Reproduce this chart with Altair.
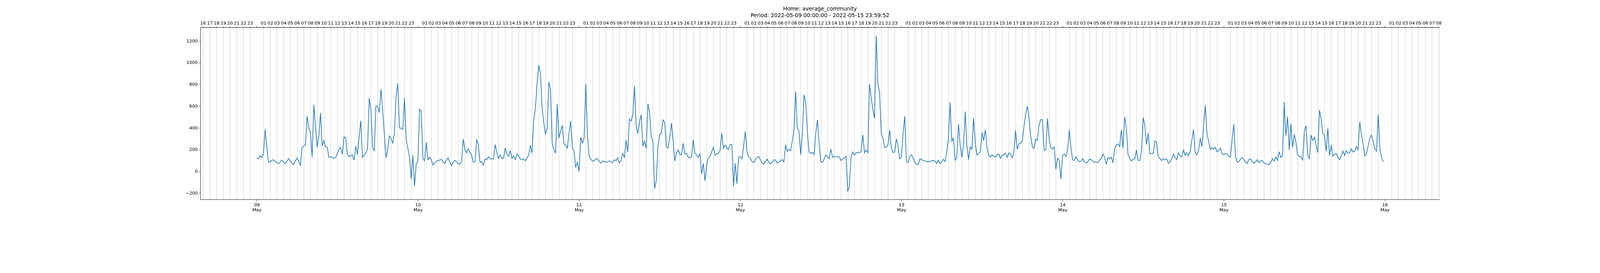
import pandas as pd
import altair as alt

# 15-minute readings, one list per day (00:00 ... 23:45)
may09 = [123, 114, 144, 125, 161, 385, 223, 84, 87, 102, 105, 92, 79, 70, 87, 103,
         86, 69, 91, 118, 92, 77, 62, 94, 123, 94, 53, 220, 232, 245, 507, 403,
         358, 130, 611, 418, 221, 320, 538, 233, 284, 225, 221, 130, 135, 128, 120, 125,
         161, 205, 218, 156, 317, 305, 158, 135, 143, 151, 103, 231, 153, 320, 466, 128,
         149, 171, 204, 675, 567, 218, 190, 601, 601, 541, 755, 562, 346, 125, 197, 326,
         302, 259, 348, 690, 811, 401, 396, 387, 675, 295, 215, 130, -70, 148, -137, 67]
may10 = [92, 571, 552, 115, 97, 267, 107, 130, 107, 56, 79, 94, 97, 104, 110, 87,
         71, 107, 124, 84, 51, 82, 101, 90, 70, 66, 85, 297, 201, 170, 208, 172,
         147, 85, 86, 294, 238, 82, 90, 56, 114, 105, 134, 115, 114, 112, 246, 173,
         117, 149, 119, 119, 215, 159, 137, 191, 120, 142, 107, 159, 144, 114, 105, 114,
         97, 124, 149, 241, 170, 478, 582, 809, 978, 903, 582, 446, 339, 397, 823, 749,
         258, 201, 167, 622, 306, 370, 423, 253, 240, 211, 349, 463, 213, 191, 36, 87]
may11 = [-2, 312, 260, 301, 806, 329, 137, 112, 94, 97, 117, 114, 92, 75, 94, 94,
         82, 89, 95, 87, 79, 107, 97, 125, 77, 99, 167, 124, 289, 178, 481, 463,
         521, 787, 420, 346, 456, 521, 231, 279, 211, 622, 542, 312, 274, -159, -85, 231,
         337, 351, 473, 453, 226, 213, 309, 444, 289, 94, 170, 198, 157, 152, 258, 161,
         165, 130, 122, 135, 291, 170, 150, 127, 165, -25, 74, -88, 61, 124, 137, 180,
         221, 147, 162, 164, 193, 352, 211, 243, 215, 201, 248, 246, -136, 74, -113, 132]
may12 = [134, 114, 228, 368, 183, 135, 120, 92, 79, 107, 127, 137, 107, 76, 66, 90,
         112, 82, 68, 82, 105, 104, 76, 85, 97, 107, 85, 243, 183, 203, 188, 279,
         380, 736, 397, 370, 152, 355, 705, 631, 360, 178, 162, 176, 155, 349, 474, 248,
         89, 82, 114, 149, 135, 115, 203, 127, 139, 132, 135, 132, 99, 117, 122, 137,
         -186, -136, 137, 178, 147, 172, 172, 172, 183, 336, 170, 196, 172, 804, 673, 572,
         486, 1249, 804, 726, 349, 304, 220, 220, 246, 380, 213, 172, 180, 299, 231, 115]
may13 = [132, 349, 508, 89, 82, 135, 152, 122, 82, 64, 64, 112, 109, 99, 95, 87,
         89, 89, 97, 99, 94, 71, 102, 71, 85, 110, 90, 178, 299, 635, 272, 309,
         102, 125, 437, 243, 127, 243, 550, 236, 107, 226, 203, 491, 260, 149, 164, 181,
         358, 282, 383, 218, 147, 132, 150, 139, 130, 154, 159, 119, 147, 152, 167, 129,
         170, 164, 124, 175, 378, 203, 254, 258, 279, 413, 521, 599, 491, 324, 226, 210,
         297, 284, 427, 476, 474, 196, 195, 488, 299, 218, 205, 225, 19, 120, 102, -73]
may14 = [145, 160, 135, 203, 380, 211, 104, 100, 135, 102, 90, 92, 117, 87, 76, 87,
         110, 107, 92, 85, 85, 79, 102, 114, 159, 132, 63, 125, 117, 130, 79, 208,
         240, 251, 228, 380, 211, 501, 395, 152, 122, 94, 112, 115, 196, 100, 99, 185,
         496, 425, 246, 352, 162, 164, 167, 279, 269, 137, 117, 99, 117, 104, 114, 73,
         85, 115, 159, 129, 107, 170, 145, 132, 196, 147, 170, 142, 181, 287, 385, 170,
         152, 190, 304, 226, 420, 607, 347, 274, 203, 218, 203, 220, 180, 193, 213, 162]
may15 = [154, 164, 160, 135, 132, 299, 432, 137, 85, 89, 112, 129, 107, 85, 73, 109,
         114, 89, 73, 87, 107, 79, 99, 97, 76, 68, 66, 61, 82, 115, 94, 132,
         99, 180, 127, 145, 638, 326, 503, 196, 437, 220, 341, 269, 150, 137, 135, 100,
         370, 420, 150, 112, 334, 284, 314, 240, 172, 564, 481, 349, 334, 183, 395, 145,
         243, 139, 157, 164, 129, 107, 145, 186, 145, 190, 165, 172, 208, 178, 183, 228,
         198, 456, 339, 253, 142, 162, 233, 306, 334, 274, 208, 185, 526, 208, 127, 89]

DAYS = [may09, may10, may11, may12, may13, may14, may15]
Y_TICKS = [-200, 0, 200, 400, 600, 800, 1000, 1200]
TITLE = ["Home: average_community",
         "Period: 2022-05-09 00:00:00 - 2022-05-15 23:59:52"]


def ms(ts):
    return int(pd.Timestamp(ts).value // 10**6)


values = [v for day in DAYS for v in day]
times = pd.date_range("2022-05-09 00:00", periods=len(values), freq="15min")
df = pd.DataFrame({"t": [ms(t) for t in times], "power": values})

x_domain = [ms("2022-05-08 15:37"), ms("2022-05-16 08:08")]
hour_ticks = [ms(h) for h in pd.date_range("2022-05-08 16:00", "2022-05-16 08:00", freq="h")
              if h.hour != 0]
day_ticks = [ms(d) for d in pd.date_range("2022-05-09", "2022-05-16", freq="D")]
edges = pd.DataFrame({"t": x_domain})

FONT = "DejaVu Sans"
x_scale = alt.Scale(type="utc", domain=x_domain, nice=False)
y_scale = alt.Scale(domain=[-259, 1326], nice=False, zero=False)
common = dict(title=None, domainColor="black", domainWidth=1.1, labelFont=FONT,
              labelFontSize=13.9, labelColor="black", tickColor="black", tickWidth=1,
              labelOverlap=False, labelFlush=False, labelBound=False)

line = alt.Chart(df).mark_line(color="#1f77b4", strokeWidth=2.1).encode(
    x=alt.X("t:T", scale=x_scale, axis=alt.Axis(
        orient="bottom", values=day_ticks, grid=False, tickSize=5, labelPadding=5,
        labelBaseline="top", labelLineHeight=15.5,
        labelExpr="[utcFormat(datum.value, '%d'), utcFormat(datum.value, '%b')]",
        **common)),
    y=alt.Y("power:Q", scale=y_scale, axis=alt.Axis(
        orient="left", values=Y_TICKS, grid=False, tickSize=5, labelPadding=4,
        labelExpr="replace(format(datum.value, 'd'), '-', '\u2212')", **common)),
)

hours = alt.Chart(edges).mark_rule(opacity=0).encode(
    x=alt.X("t:T", scale=x_scale, axis=alt.Axis(
        orient="top", values=hour_ticks, grid=True, gridColor="#b0b0b0", gridWidth=0.8,
        tickSize=3, labelPadding=6.3, labelBaseline="alphabetic",
        labelExpr="utcFormat(datum.value, '%H')", **common)),
)

midnights = alt.Chart(edges).mark_rule(opacity=0).encode(
    x=alt.X("t:T", scale=x_scale, axis=alt.Axis(
        orient="top", values=day_ticks, grid=False, labels=False, tickSize=5,
        **common)),
)

chart = alt.layer(line, hours, midnights).resolve_axis(x="independent").properties(
    width=3875,
    height=539,
    autosize=alt.AutoSizeParams(type="none"),
    padding={"left": 617, "top": 12, "right": 492, "bottom": 25},
    title=alt.TitleParams(text=TITLE, font=FONT, fontSize=16.7, fontWeight="normal",
                          color="black", anchor="middle", frame="group",
                          lineHeight=21, offset=8),
).configure_view(stroke="black", strokeWidth=1.1).configure(background="white")

chart.save("out.html", embed_options={"renderer": "svg", "actions": False})
